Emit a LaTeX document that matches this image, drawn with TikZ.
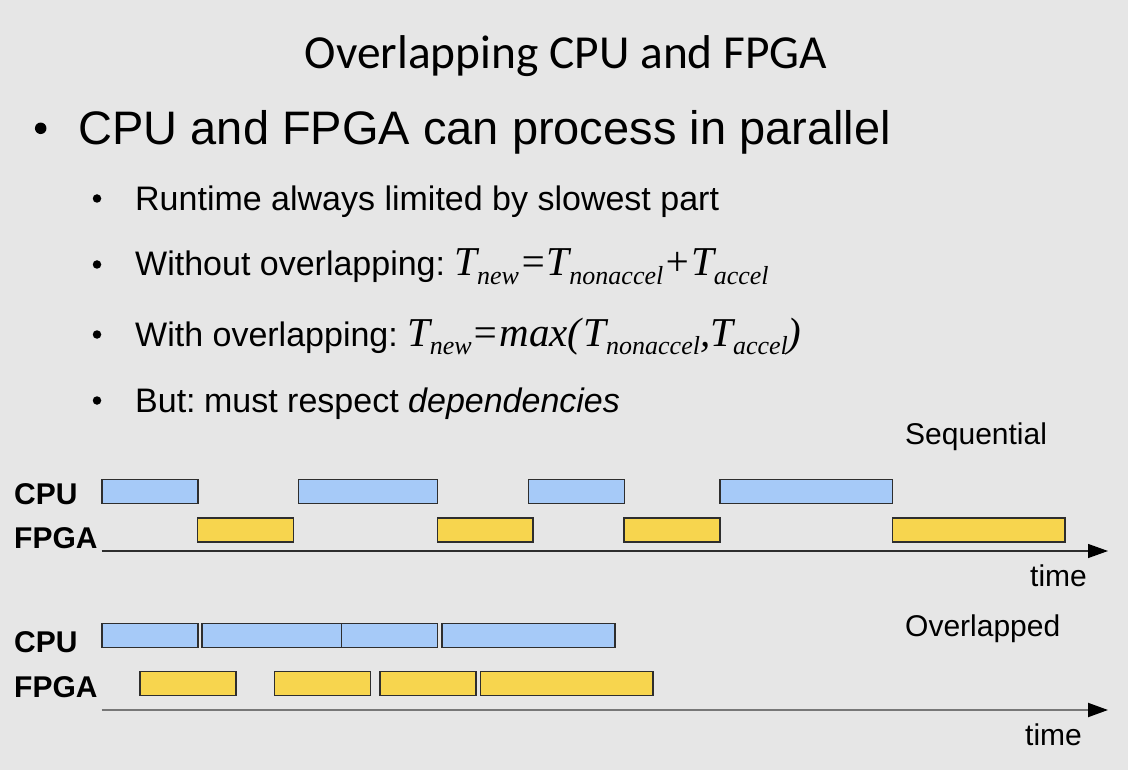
\documentclass[tikz,border=0pt]{standalone}
\usepackage{fontspec}
\setmainfont{Liberation Sans}
\newfontfamily\titlefont{Carlito}
\newfontfamily\formfont{Liberation Serif}
\usetikzlibrary{arrows.meta}

\definecolor{slidebg}{HTML}{E6E6E6}
\definecolor{cpufill}{HTML}{A6CAF8}
\definecolor{fpgafill}{HTML}{F7D54E}
\definecolor{barline}{HTML}{2E2E2E}
\definecolor{axisgray}{HTML}{777777}

\newcommand\fs[1]{\fontsize{#1}{#1}\selectfont}
\newcommand\lowsub[1]{\raisebox{-9pt}{\fs{26}#1}}
% \taskbar{style}{name}{left x}{right x}{top y}
\newcommand\taskbar[5]{\node[#1, minimum width={#4pt-#3pt}] (#2) at (#3,#5) {};}

\begin{document}
\begin{tikzpicture}[x=1pt,y=-1pt,
  txt/.style={inner sep=0, anchor=base west},
  bar/.style={draw=barline, line width=1.4pt, inner sep=0, outer sep=0,
              anchor=north west, minimum height=24pt},
  cpubar/.style={bar, fill=cpufill},
  fpgabar/.style={bar, fill=fpgafill},
  dot/.style={circle, fill=black, inner sep=0},
  bigdot/.style={dot, minimum size=11.5pt},
  smalldot/.style={dot, minimum size=8.5pt},
  lbl/.style={txt, font=\fs{30}\bfseries},
  note/.style={txt, font=\fs{30}},
  body/.style={txt, font=\fs{34}},
  axis/.style={line width=1.3pt, draw=barline,
               -{Triangle[length=20pt,width=14pt,black]}}
]
% slide background
\fill[slidebg] (0,0) rectangle (1128,770);
\useasboundingbox (0,0) rectangle (1128,770);

% heading
\node[txt, anchor=base] (title) at (566,69) {\titlefont\fs{47.4}Overlapping CPU and FPGA};

% bullet list
\node[bigdot] (d0) at (40.7,128.3) {};
\node[txt] (b0) at (78.3,145) {\fs{47}CPU and FPGA can process in parallel};

\node[smalldot] (d1) at (97,198.5) {};
\node[body] (b1) at (135,210.5) {Runtime always limited by slowest part};

\node[smalldot] (d2) at (97,264.5) {};
\node[body] (b2) at (135,276) {Without overlapping:\hspace{0.27em}{\formfont\itshape\fs{41}T\lowsub{new}=T\lowsub{nonaccel}+T\lowsub{accel}}};

\node[smalldot] (d3) at (97,334.5) {};
\node[body] (b3) at (135,346) {With overlapping:\hspace{0.27em}{\formfont\itshape\fs{41}T\lowsub{new}=max(\kern2pt T\lowsub{nonaccel},T\lowsub{accel})}};

\node[smalldot] (d4) at (97,400.5) {};
\node[body] (b4) at (135,412.5) {But:\kern-1pt\ must respect \textit{dependencies}};

% sequential schedule
\node[note] (seqtitle) at (905,444) {Sequential};
\node[lbl] (seqcpu) at (14,504) {CPU};
\node[lbl] (seqfpga) at (14,548) {FPGA};

\taskbar{cpubar}{sc1}{102}{198}{479.5}
\taskbar{cpubar}{sc2}{298.5}{437.5}{479.5}
\taskbar{cpubar}{sc3}{528.5}{624.5}{479.5}
\taskbar{cpubar}{sc4}{720}{892.5}{479.5}

\taskbar{fpgabar}{sf1}{197.5}{293.5}{518}
\taskbar{fpgabar}{sf2}{437.5}{533}{518}
\taskbar{fpgabar}{sf3}{624}{720}{518}
\taskbar{fpgabar}{sf4}{892.5}{1065}{518}

\coordinate (sa0) at (101.7,551);
\coordinate (sa1) at (1108,551);
\draw[axis] (sa0) -- (sa1);
\node[note] (seqtime) at (1030,586) {time};

% overlapped schedule
\node[note] (ovtitle) at (905,636) {Overlapped};
\node[lbl] (ovcpu) at (14,652) {CPU};
\node[lbl] (ovfpga) at (14,697) {FPGA};

\taskbar{cpubar}{oc1}{102}{198}{623.5}
\taskbar{cpubar}{oc2}{202}{341.5}{623.5}
\taskbar{cpubar}{oc3}{341.5}{437.5}{623.5}
\taskbar{cpubar}{oc4}{442}{615}{623.5}

\taskbar{fpgabar}{of1}{140}{236}{671.5}
\taskbar{fpgabar}{of2}{274.5}{370.5}{671.5}
\taskbar{fpgabar}{of3}{380}{476}{671.5}
\taskbar{fpgabar}{of4}{480.5}{653}{671.5}

\coordinate (oa0) at (101.7,710);
\coordinate (oa1) at (1108,710);
\draw[axis, line width=2pt, draw=axisgray] (oa0) -- (oa1);
\node[note] (ovtime) at (1025,745) {time};
\end{tikzpicture}
\end{document}
